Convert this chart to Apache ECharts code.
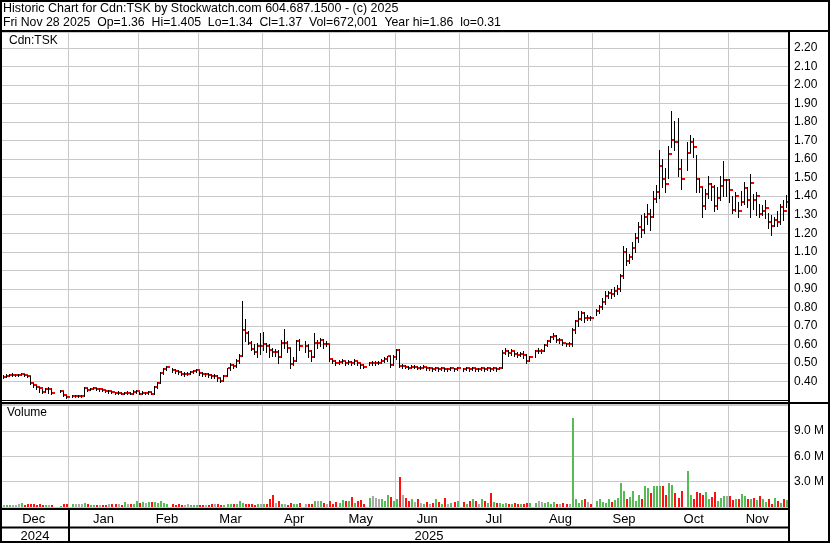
<!DOCTYPE html>
<html><head><meta charset="utf-8">
<script src="https://cdn.jsdelivr.net/npm/echarts@6/dist/echarts.min.js"></script>
<style>html,body{margin:0;padding:0;background:#fff}#c{width:830px;height:543px}</style>
</head><body><div id="c"></div>
<script>
// ---- DATA (one slot per weekday, Dec 2 2024 .. Nov 28 2025; null = market holiday) ----
const closeP = [
 0.425,0.43,0.435,0.435,0.435,0.435,0.44,0.435,0.43,0.39,0.38,0.37,0.365,0.345,0.36,0.36,0.34,null,null,0.35,0.325,0.315,
 null,0.32,0.32,0.32,0.32,0.365,0.355,0.36,0.365,0.36,0.36,0.355,0.35,0.35,0.345,0.34,0.34,0.335,0.34,0.34,0.335,0.345,0.35,
 0.335,0.34,0.34,0.345,0.335,0.37,0.39,0.445,0.465,0.48,null,0.46,0.455,0.45,0.44,0.44,0.44,0.45,0.455,0.46,
 0.445,0.44,0.44,0.435,0.43,0.43,0.42,0.40,0.43,0.47,0.49,0.485,0.51,0.54,0.68,0.66,0.61,0.575,0.56,0.59,0.59,
 0.60,0.59,0.57,0.56,0.56,0.53,0.61,0.61,0.578,0.495,0.51,0.62,0.59,null,0.59,0.565,0.53,0.61,0.61,0.625,0.60,0.60,
 0.52,0.51,0.50,0.505,0.51,0.50,0.505,0.50,0.51,0.50,0.49,0.48,null,0.50,0.50,0.50,0.50,0.51,0.52,0.535,0.49,0.53,
 0.57,0.485,0.485,0.48,0.475,0.48,0.48,0.475,0.475,0.48,0.47,0.47,0.465,0.47,0.465,0.47,0.465,0.465,0.47,0.465,0.47,
 null,0.465,0.47,0.465,0.47,0.465,0.465,0.47,0.465,0.47,0.465,0.47,0.465,0.47,0.555,0.565,0.555,0.565,0.55,0.545,0.55,0.545,0.51,
 0.53,null,0.565,0.565,0.565,0.595,0.62,0.64,0.645,0.625,0.625,0.61,0.60,0.60,0.68,0.725,0.735,0.77,0.745,0.745,0.74,
 null,0.78,0.80,0.83,0.86,0.88,0.87,0.89,0.90,0.97,1.10,1.05,1.07,1.12,1.175,1.235,1.22,1.285,1.305,1.29,1.385,1.42,
 1.565,1.495,1.467,1.63,1.705,1.695,1.548,1.495,null,1.632,1.695,1.668,1.495,1.447,1.348,1.41,1.467,1.447,1.348,1.39,1.456,1.488,1.488,
 1.434,1.327,1.40,1.318,1.366,1.445,1.377,1.47,1.377,1.40,1.305,1.318,1.336,1.258,1.237,1.27,1.258,1.34,1.318,1.37
];
const highP = [
 0.435,0.44,0.44,0.445,0.44,0.44,0.445,0.44,0.435,0.43,0.39,0.38,0.37,0.36,0.365,0.37,0.365,null,null,0.355,0.35,0.325,
 null,0.325,0.325,0.325,0.325,0.37,0.365,0.365,0.37,0.365,0.365,0.36,0.355,0.355,0.35,0.345,0.35,0.345,0.345,0.35,0.345,0.355,0.355,
 0.345,0.35,0.345,0.35,0.345,0.375,0.395,0.45,0.47,0.485,null,0.475,0.465,0.46,0.455,0.45,0.45,0.455,0.46,0.465,
 0.455,0.45,0.445,0.445,0.44,0.44,0.435,0.42,0.435,0.475,0.50,0.495,0.52,0.55,0.836,0.735,0.67,0.62,0.60,0.61,0.66,
 0.665,0.61,0.60,0.58,0.575,0.57,0.625,0.685,0.62,0.58,0.53,0.625,0.63,null,0.62,0.60,0.57,0.66,0.625,0.635,0.63,0.62,
 0.60,0.52,0.515,0.515,0.52,0.51,0.515,0.51,0.52,0.51,0.50,0.495,null,0.505,0.51,0.51,0.51,0.52,0.53,0.54,0.535,0.545,
 0.575,0.575,0.495,0.49,0.485,0.49,0.49,0.485,0.485,0.49,0.48,0.48,0.475,0.48,0.475,0.48,0.475,0.475,0.48,0.475,0.48,
 null,0.475,0.48,0.475,0.48,0.475,0.475,0.48,0.475,0.48,0.475,0.48,0.475,0.48,0.57,0.58,0.57,0.575,0.565,0.56,0.56,0.565,0.55,
 0.54,null,0.57,0.58,0.575,0.60,0.625,0.645,0.66,0.65,0.635,0.625,0.61,0.615,0.69,0.73,0.78,0.78,0.775,0.76,0.755,
 null,0.79,0.81,0.85,0.89,0.89,0.90,0.91,0.92,0.98,1.13,1.12,1.09,1.15,1.20,1.26,1.30,1.31,1.36,1.33,1.43,1.46,
 1.65,1.60,1.55,1.672,1.86,1.803,1.82,1.60,null,1.695,1.731,1.713,1.623,1.50,1.45,1.44,1.51,1.47,1.461,1.45,1.51,1.59,1.49,
 1.49,1.40,1.42,1.37,1.43,1.474,1.45,1.52,1.41,1.42,1.36,1.35,1.38,1.31,1.30,1.29,1.32,1.36,1.38,1.405
];
const lowP = [
 0.42,0.425,0.43,0.43,0.43,0.43,0.435,0.43,0.425,0.385,0.37,0.36,0.345,0.34,0.345,0.34,0.335,null,null,0.345,0.32,0.31,
 null,0.315,0.315,0.315,0.315,0.32,0.35,0.355,0.36,0.355,0.35,0.35,0.345,0.34,0.34,0.335,0.335,0.33,0.335,0.33,0.33,0.335,0.34,
 0.33,0.335,0.335,0.335,0.33,0.335,0.365,0.39,0.44,0.46,null,0.45,0.445,0.44,0.435,0.43,0.435,0.44,0.445,0.45,
 0.435,0.43,0.43,0.425,0.42,0.42,0.405,0.395,0.40,0.43,0.46,0.475,0.48,0.50,0.535,0.62,0.60,0.57,0.55,0.53,0.55,
 0.57,0.56,0.53,0.54,0.54,0.50,0.53,0.58,0.56,0.47,0.49,0.51,0.57,null,0.56,0.53,0.51,0.53,0.58,0.59,0.58,0.59,
 0.51,0.50,0.49,0.495,0.50,0.49,0.495,0.49,0.495,0.49,0.475,0.47,null,0.49,0.49,0.49,0.495,0.50,0.505,0.51,0.48,0.49,
 0.52,0.48,0.475,0.47,0.465,0.47,0.47,0.465,0.465,0.47,0.46,0.46,0.455,0.46,0.455,0.46,0.455,0.455,0.46,0.455,0.46,
 null,0.455,0.46,0.455,0.46,0.455,0.455,0.46,0.455,0.46,0.455,0.46,0.455,0.465,0.47,0.55,0.54,0.545,0.535,0.53,0.535,0.525,0.50,
 0.51,null,0.53,0.555,0.555,0.565,0.59,0.615,0.63,0.615,0.61,0.595,0.59,0.59,0.59,0.66,0.70,0.73,0.72,0.73,0.73,
 null,0.76,0.77,0.79,0.82,0.85,0.85,0.86,0.87,0.89,0.96,1.03,1.04,1.06,1.10,1.15,1.18,1.20,1.25,1.22,1.29,1.37,
 1.39,1.45,1.42,1.497,1.668,1.65,1.507,1.438,null,1.542,1.64,1.614,1.425,1.42,1.29,1.33,1.39,1.38,1.32,1.33,1.38,1.40,1.40,
 1.37,1.31,1.32,1.29,1.35,1.36,1.34,1.29,1.33,1.30,1.29,1.30,1.28,1.23,1.19,1.24,1.24,1.25,1.27,1.34
];
// volume in millions of shares
const volM = [
 0.25,0.2,0.2,0.2,0.25,0.3,0.5,0.25,0.3,0.3,0.3,0.2,0.3,0.2,0.25,0.2,0.2,null,null,0.15,0.4,0.3,
 null,0.4,0.4,0.4,0.3,0.45,0.3,0.25,0.25,0.2,0.25,0.2,0.2,0.4,0.35,0.3,0.3,0.2,0.6,0.4,0.3,0.4,0.7,
 0.5,0.6,0.5,0.6,0.6,0.6,0.5,0.7,0.5,0.4,null,0.3,0.2,0.3,0.2,0.25,0.3,0.2,0.25,0.2,
 0.2,0.2,0.2,0.25,0.3,0.35,0.3,0.25,0.2,0.3,0.4,0.35,0.3,0.7,0.5,0.4,0.4,0.3,0.25,0.35,0.4,
 0.3,0.4,0.9,1.4,0.5,0.7,0.4,0.3,0.2,0.5,0.3,0.4,0.5,null,0.4,0.3,0.4,0.7,0.7,0.7,0.5,0.4,
 0.7,0.4,0.6,0.5,0.8,0.7,0.7,1.2,0.5,0.7,0.8,0.4,null,1.1,1.3,1.1,0.9,1.0,0.7,1.4,1.2,0.7,
 1.0,3.5,1.4,1.1,0.7,0.9,0.6,0.9,0.5,0.4,0.6,0.3,0.5,1.0,0.6,0.3,1.1,0.4,0.5,0.6,0.7,
 null,0.6,0.3,0.7,0.9,0.7,0.4,1.0,0.7,0.5,1.6,0.6,0.5,0.5,0.4,0.5,0.4,0.3,0.5,0.4,0.3,0.4,0.5,
 0.5,null,0.5,0.7,0.6,0.5,0.6,0.4,0.6,0.3,0.4,0.5,0.4,0.3,10.6,0.9,0.5,0.8,0.9,0.6,0.4,
 null,0.7,1.0,0.6,0.5,0.9,0.6,0.8,1.1,2.8,1.9,0.9,1.2,1.9,0.7,1.4,1.0,2.5,2.3,1.7,2.5,2.5,
 2.5,2.5,1.4,2.8,2.6,1.6,1.1,1.9,null,4.3,1.4,0.9,1.8,1.7,1.4,1.8,0.9,1.2,1.8,0.7,1.1,1.3,1.3,
 1.3,0.8,0.9,0.9,1.5,1.3,1.0,1.0,1.1,0.8,1.3,1.0,0.6,1.0,0.4,1.1,0.7,0.5,1.0,0.8
];
const monthNames = ['Jan','Feb','Mar','Apr','May','Jun','Jul','Aug','Sep','Oct','Nov','Dec'];
const yearLabels = ['2024','2025'];
const titleLine1 = 'Historic Chart for Cdn:TSK by Stockwatch.com 604.687.1500 - (c) 2025';
const titleLine2 = 'Fri Nov 28 2025  Op=1.36  Hi=1.405  Lo=1.34  Cl=1.37  Vol=672,001  Year hi=1.86  lo=0.31';
const symbol = 'Cdn:TSK';

// ---- categories: weekdays ----
const dates = [];
for (let t = Date.UTC(2024,11,2); t <= Date.UTC(2025,10,28); t += 86400000) {
  const d = new Date(t); const wd = d.getUTCDay();
  if (wd !== 0 && wd !== 6) dates.push(d.toISOString().slice(0,10));
}
const monthStart = new Set(); const monthMid = new Set();
{
  let s = 0;
  for (let i = 1; i <= dates.length; i++) {
    if (i === dates.length || dates[i].slice(5,7) !== dates[i-1].slice(5,7)) {
      monthMid.add(Math.floor((s + i - 1) / 2));
      if (i < dates.length) monthStart.add(i);
      s = i;
    }
  }
}
const ohlc = [];
closeP.forEach((c, i) => { if (c != null) ohlc.push([i, highP[i], lowP[i], c]); });
let prev = null;
const volData = [];
volM.forEach((v, i) => {
  const c = closeP[i];
  if (v == null || c == null) return;
  let dir = 0;
  if (prev != null) dir = c > prev ? 1 : (c < prev ? -1 : 0);
  prev = c;
  volData.push([i, v * 1e6, dir]);
});

const FONT = 'Liberation Sans, Arial, sans-serif';
const GRID = '#c8c8c8';
const VCOL = { '1': '#55bb55', '-1': '#ff1010', '0': '#a9a9a9' };
const chart = echarts.init(document.getElementById('c'), null, { renderer: 'canvas' });
const L = 2, R = 830 - 789;
const blk = (x1,y1,x2,y2,w) => ({ type:'line', z:100, shape:{x1,y1,x2,y2}, style:{stroke:'#000', lineWidth:w} });
chart.setOption({
  animation: false,
  backgroundColor: '#fff',
  grid: [
    { left: L, right: R, top: 32, height: 368 },
    { left: L, right: R, top: 404, height: 103 }
  ],
  xAxis: [
    { type:'category', gridIndex:0, data: dates, boundaryGap: true,
      axisLine:{show:false}, axisTick:{show:false}, axisLabel:{show:false},
      splitLine:{ show:true, interval:(i)=>monthStart.has(i), lineStyle:{color:GRID, width:1} } },
    { type:'category', gridIndex:1, data: dates, boundaryGap: true,
      axisLine:{show:false}, axisTick:{show:false},
      axisLabel:{ show:true, interval:(i)=>monthMid.has(i), formatter:(v)=>monthNames[+v.slice(5,7)-1],
        color:'#000', fontFamily:FONT, fontSize:13, margin:6 },
      splitLine:{ show:true, interval:(i)=>monthStart.has(i), lineStyle:{color:GRID, width:1} } }
  ],
  yAxis: [
    { type:'value', gridIndex:0, position:'right', min:0.3, max:2.286, interval:0.1,
      axisLine:{show:false}, axisTick:{show:false},
      axisLabel:{ color:'#000', fontFamily:FONT, fontSize:12, margin:5, align:'left',
        formatter:(v)=> (v < 0.35 || v > 2.25) ? '' : v.toFixed(2) },
      splitLine:{ lineStyle:{color:GRID, width:1} } },
    { type:'value', gridIndex:1, position:'right', min:0, max:12.2e6, interval:3e6,
      axisLine:{show:false}, axisTick:{show:false},
      axisLabel:{ color:'#000', fontFamily:FONT, fontSize:12, margin:5, align:'left',
        formatter:(v)=> (v < 1 || v > 10e6) ? '' : (v/1e6).toFixed(1) + ' M' },
      splitLine:{ lineStyle:{color:GRID, width:1} } }
  ],
  series: [
    { type:'custom', xAxisIndex:0, yAxisIndex:0, data: ohlc, encode:{x:0, y:[1,2,3]}, z:5,
      renderItem:(params, api) => {
        const i = api.value(0);
        const ph = api.coord([i, api.value(1)]), pl = api.coord([i, api.value(2)]), pc = api.coord([i, api.value(3)]);
        const x = Math.round(ph[0]) - 1;
        return { type:'group', children:[
          { type:'rect', shape:{x:x, y:Math.round(ph[1]), width:1, height:Math.max(1, Math.round(pl[1]) - Math.round(ph[1]) + 1)}, style:{fill:'#000'} },
          { type:'rect', shape:{x:x + 1, y:Math.round(pc[1]) - 1, width:3, height:2}, style:{fill:'#ff0000'} }
        ]};
      } },
    { type:'custom', xAxisIndex:1, yAxisIndex:1, data: volData, encode:{x:0, y:1}, z:5,
      renderItem:(params, api) => {
        const i = api.value(0);
        const top = api.coord([i, api.value(1)]), base = api.coord([i, 0]);
        const x = Math.round(top[0]) - 1;
        const y = Math.round(top[1]);
        return { type:'rect', shape:{x:x, y:y, width:2, height:Math.round(base[1]) - y}, style:{fill:VCOL[String(api.value(2))]} };
      } }
  ],
  graphic: [
    { type:'text', x:3, y:2, scaleX:0.96, z:100, style:{ text:titleLine1, font:'13px ' + FONT, fill:'#000' } },
    { type:'text', x:3, y:16, scaleX:0.945, z:100, style:{ text:titleLine2, font:'13px ' + FONT, fill:'#000' } },
    { type:'text', left:9, top:35, z:100, style:{ text:symbol, font:'12px ' + FONT, fill:'#000' } },
    { type:'text', left:7, top:407, z:100, style:{ text:'Volume', font:'12px ' + FONT, fill:'#000' } },
    { type:'text', x:35, y:536, z:100, style:{ text:yearLabels[0], font:'13px ' + FONT, fill:'#000', align:'center', verticalAlign:'middle' } },
    { type:'text', x:429, y:536, z:100, style:{ text:yearLabels[1], font:'13px ' + FONT, fill:'#000', align:'center', verticalAlign:'middle' } },
    { type:'rect', z:100, shape:{x:1, y:1, width:828, height:541}, style:{fill:'none', stroke:'#000', lineWidth:2} },
    blk(0, 31, 830, 31, 2),
    blk(789, 31, 789, 543, 2),
    blk(0, 400.5, 789, 400.5, 1),
    blk(0, 403, 830, 403, 2),
    blk(0, 509, 789, 509, 2),
    blk(0, 527.5, 789, 527.5, 2),
    blk(69, 509, 69, 543, 2)
  ]
});
</script></body></html>
